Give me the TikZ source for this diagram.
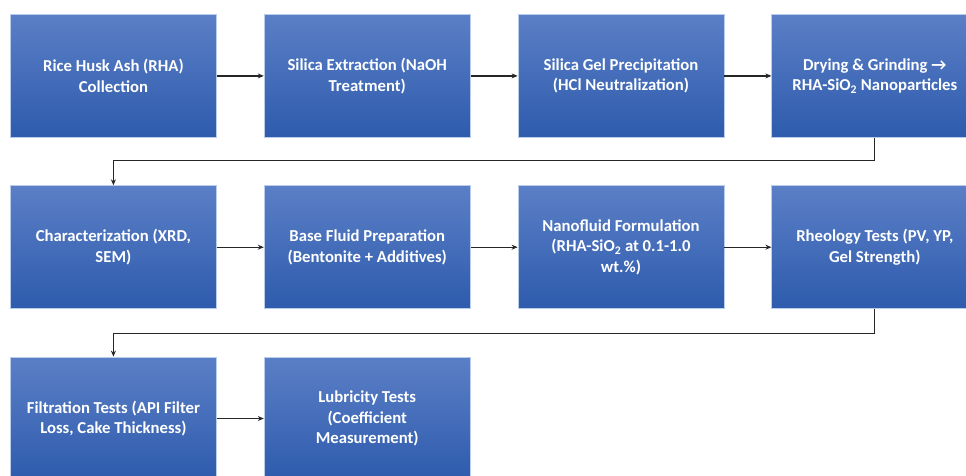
\documentclass[tikz,border=0pt]{standalone}
\usepackage{fontspec}
\setmainfont{Carlito}
\usepackage{tikz}
\usetikzlibrary{arrows.meta, positioning, calc}

\definecolor{boxtop}{HTML}{5B7FC6}
\definecolor{boxbot}{HTML}{2E5BAD}
\definecolor{boxedge}{HTML}{B9CDEB}

\tikzset{
    stage/.style={rectangle, minimum width=206pt, minimum height=123pt, inner sep=2pt,
        top color=boxtop, bottom color=boxbot, draw=boxedge, line width=0.8pt,
        text=white, align=center, font=\fontsize{16.7pt}{20.5pt}\selectfont\bfseries},
    flow/.style={-{Stealth[length=6pt, width=5pt]}, line width=1.2pt, black!85}
}

\begin{document}
\begin{tikzpicture}[node distance=47.5pt and 47pt]
    \useasboundingbox (0,0) rectangle (966pt,-475pt);
    \clip (0,0) rectangle (966pt,-475pt);

    % Row 1: silica preparation
    \node[stage, anchor=north west] (rha) at (10pt,-14pt) {Rice Husk Ash (RHA)\\Collection};
    \node[stage, right=of rha] (extract) {Silica Extraction (NaOH\\Treatment)};
    \node[stage, right=of extract] (gel) {Silica Gel Precipitation\\(HCl Neutralization)};
    \node[stage, right=of gel] (dry) {Drying \& Grinding →\\RHA-SiO\textsubscript{2} Nanoparticles};

    % Row 2: fluid formulation
    \node[stage, below=of rha] (charac) {Characterization (XRD,\\SEM)};
    \node[stage, right=of charac] (base) {Base Fluid Preparation\\(Bentonite + Additives)};
    \node[stage, right=of base] (formul) {Nanofluid Formulation\\(RHA-SiO\textsubscript{2} at 0.1-1.0\\wt.\%)};
    \node[stage, right=of formul] (rheo) {Rheology Tests (PV, YP,\\Gel Strength)};

    % Row 3: performance tests
    \node[stage, below=of charac] (filt) {Filtration Tests (API Filter\\Loss, Cake Thickness)};
    \node[stage, right=of filt] (lub) {Lubricity Tests\\(Coefficient\\Measurement)};

    % Connectors
    \draw[flow] (rha) -- (extract);
    \draw[flow] (extract) -- (gel);
    \draw[flow] (gel) -- (dry);
    \draw[flow] (dry.south) -- ++(0,-23pt) -| (charac.north);
    \draw[flow] (charac) -- (base);
    \draw[flow] (base) -- (formul);
    \draw[flow] (formul) -- (rheo);
    \draw[flow] (rheo.south) -- ++(0,-24pt) -| (filt.north);
    \draw[flow] (filt) -- (lub);
\end{tikzpicture}
\end{document}
